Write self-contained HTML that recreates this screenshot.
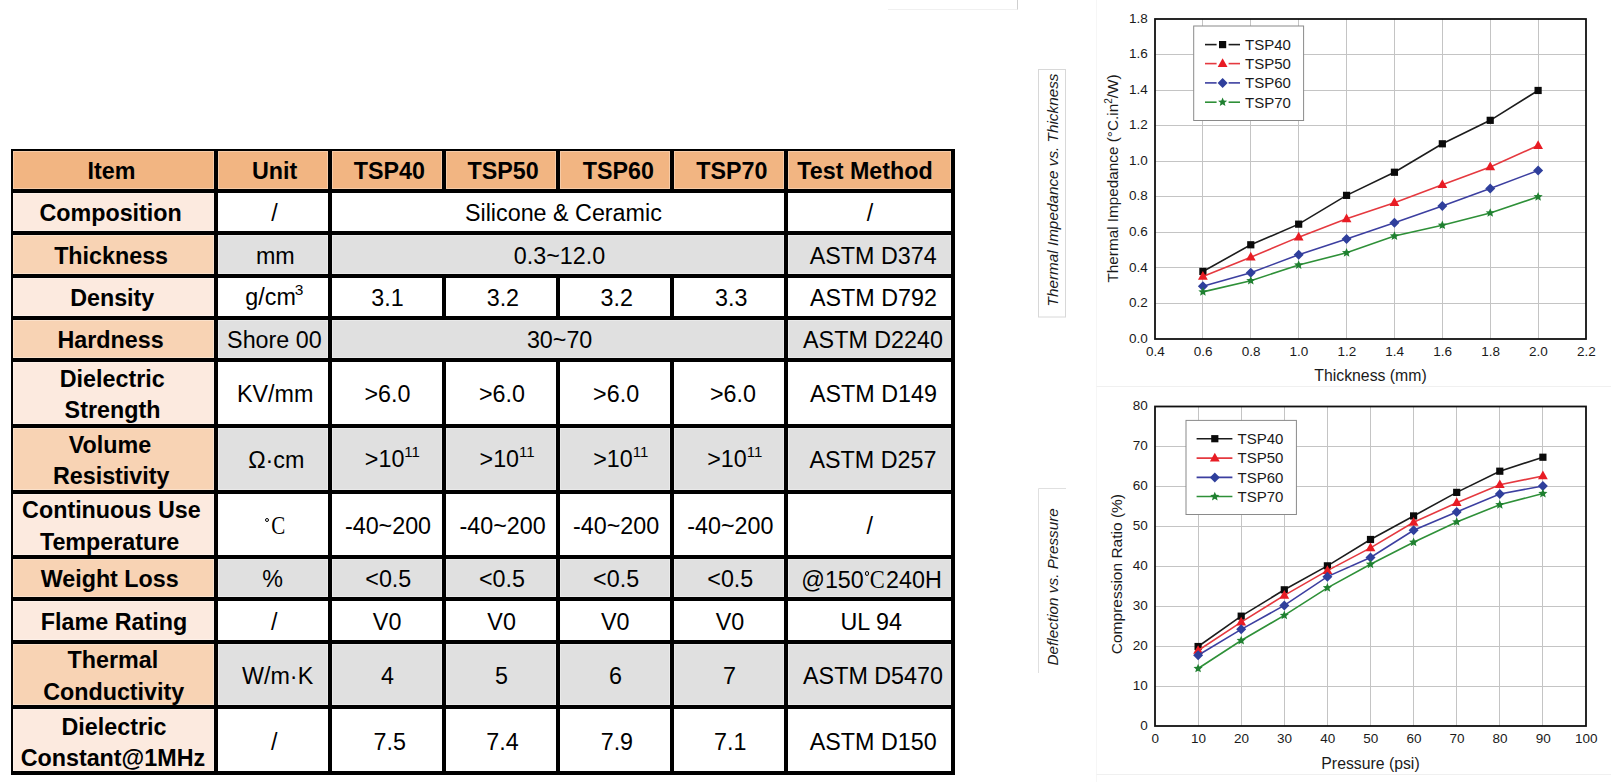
<!DOCTYPE html>
<html><head><meta charset="utf-8"><title>TSP Table</title>
<style>
html,body{margin:0;padding:0;background:#fff;width:1611px;height:782px;overflow:hidden;}
body{position:relative;font-family:"Liberation Sans",sans-serif;color:#000;}
.tb{position:absolute;background:#000;}
.c{position:absolute;box-shadow:inset 0 0 0 1px rgba(255,255,255,0.3);display:flex;align-items:center;justify-content:center;text-align:center;font-size:23.3px;line-height:31.4px;white-space:nowrap;}
.c.b{font-weight:bold;}
.in{position:relative;display:flex;flex-direction:column;align-items:center;}
.ln{position:relative;display:block;}
sup.s3{font-size:15.5px;vertical-align:0;position:relative;top:-10.5px;margin-left:-1px;}
sup.s11{font-size:15px;vertical-align:0;position:relative;top:-10px;}
.dg{display:inline-block;width:2.6px;height:2.6px;border:0.9px solid #000;border-radius:50%;position:relative;top:-12px;margin-right:0.5px;}
.cc{font-family:"Liberation Serif",serif;font-size:25px;display:inline-block;transform:scaleX(0.84);font-weight:normal;}
.dg2{display:inline-block;width:2.6px;height:2.6px;border:0.9px solid #000;border-radius:50%;position:relative;top:-12px;margin-right:0.5px;margin-left:1px;}
.cc2{font-family:"Liberation Serif",serif;font-size:25px;display:inline-block;transform:scaleX(0.9);margin:0 0 0 -0.5px;}
.ch{position:absolute;left:0;top:0;}
</style></head>
<body>
<div class="tb" style="left:11px;top:149px;width:944px;height:626px"></div>
<div class="c b" style="left:13px;top:151px;width:201px;height:38px;background:#F2B582"><div class="in" style="top:2px"><span class="ln" style="left:-2.1px">Item</span></div></div>
<div class="c b" style="left:218px;top:151px;width:110px;height:38px;background:#F2B582"><div class="in" style="top:2px"><span class="ln" style="left:1.7px">Unit</span></div></div>
<div class="c b" style="left:332px;top:151px;width:110px;height:38px;background:#F2B582"><div class="in" style="top:2px"><span class="ln" style="left:2.3px">TSP40</span></div></div>
<div class="c b" style="left:446px;top:151px;width:110px;height:38px;background:#F2B582"><div class="in" style="top:2px"><span class="ln" style="left:2.2px">TSP50</span></div></div>
<div class="c b" style="left:560px;top:151px;width:110px;height:38px;background:#F2B582"><div class="in" style="top:2px"><span class="ln" style="left:3.4px">TSP60</span></div></div>
<div class="c b" style="left:674px;top:151px;width:110px;height:38px;background:#F2B582"><div class="in" style="top:2px"><span class="ln" style="left:2.8px">TSP70</span></div></div>
<div class="c b" style="left:788px;top:151px;width:163px;height:38px;background:#F2B582"><div class="in" style="top:2px"><span class="ln" style="left:-4.5px">Test Method</span></div></div>
<div class="c b" style="left:13px;top:193px;width:201px;height:38px;background:#FCEADF"><div class="in" style="top:2px"><span class="ln" style="left:-2.9px">Composition</span></div></div>
<div class="c " style="left:218px;top:193px;width:110px;height:38px;background:#FFFFFF"><div class="in" style="top:2px"><span class="ln" style="left:1.5px">/</span></div></div>
<div class="c " style="left:332px;top:193px;width:452px;height:38px;background:#FFFFFF"><div class="in" style="top:2px"><span class="ln" style="left:5.4px">Silicone &amp; Ceramic</span></div></div>
<div class="c " style="left:788px;top:193px;width:163px;height:38px;background:#FFFFFF"><div class="in" style="top:2px"><span class="ln" style="left:0.6px">/</span></div></div>
<div class="c b" style="left:13px;top:235px;width:201px;height:39px;background:#F8D3B4"><div class="in" style="top:2px"><span class="ln" style="left:-2.4px">Thickness</span></div></div>
<div class="c " style="left:218px;top:235px;width:110px;height:39px;background:#E0E0E0"><div class="in" style="top:2px"><span class="ln" style="left:2.3px">mm</span></div></div>
<div class="c " style="left:332px;top:235px;width:452px;height:39px;background:#E0E0E0"><div class="in" style="top:2px"><span class="ln" style="left:1.5px">0.3~12.0</span></div></div>
<div class="c " style="left:788px;top:235px;width:163px;height:39px;background:#E0E0E0"><div class="in" style="top:2px"><span class="ln" style="left:3.7px">ASTM D374</span></div></div>
<div class="c b" style="left:13px;top:278px;width:201px;height:38px;background:#FCEADF"><div class="in" style="top:2px"><span class="ln" style="left:-1.3px">Density</span></div></div>
<div class="c " style="left:218px;top:278px;width:110px;height:38px;background:#FFFFFF"><div class="in" style="top:2px"><span class="ln" style="left:1.4px">g/cm<sup class="s3">3</sup></span></div></div>
<div class="c " style="left:332px;top:278px;width:110px;height:38px;background:#FFFFFF"><div class="in" style="top:2px"><span class="ln" style="left:0.5px">3.1</span></div></div>
<div class="c " style="left:446px;top:278px;width:110px;height:38px;background:#FFFFFF"><div class="in" style="top:2px"><span class="ln" style="left:1.9px">3.2</span></div></div>
<div class="c " style="left:560px;top:278px;width:110px;height:38px;background:#FFFFFF"><div class="in" style="top:2px"><span class="ln" style="left:1.8px">3.2</span></div></div>
<div class="c " style="left:674px;top:278px;width:110px;height:38px;background:#FFFFFF"><div class="in" style="top:2px"><span class="ln" style="left:2.2px">3.3</span></div></div>
<div class="c " style="left:788px;top:278px;width:163px;height:38px;background:#FFFFFF"><div class="in" style="top:2px"><span class="ln" style="left:4.0px">ASTM D792</span></div></div>
<div class="c b" style="left:13px;top:320px;width:201px;height:38px;background:#F8D3B4"><div class="in" style="top:2px"><span class="ln" style="left:-3.0px">Hardness</span></div></div>
<div class="c " style="left:218px;top:320px;width:110px;height:38px;background:#E0E0E0"><div class="in" style="top:2px"><span class="ln" style="left:1.4px">Shore 00</span></div></div>
<div class="c " style="left:332px;top:320px;width:452px;height:38px;background:#E0E0E0"><div class="in" style="top:2px"><span class="ln" style="left:1.6px">30~70</span></div></div>
<div class="c " style="left:788px;top:320px;width:163px;height:38px;background:#E0E0E0"><div class="in" style="top:2px"><span class="ln" style="left:3.5px">ASTM D2240</span></div></div>
<div class="c b" style="left:13px;top:362px;width:201px;height:62px;background:#FCEADF"><div class="in" style="top:2px"><span class="ln" style="left:-1.3px">Dielectric</span><span class="ln" style="left:-1.0px">Strength</span></div></div>
<div class="c " style="left:218px;top:362px;width:110px;height:62px;background:#FFFFFF"><div class="in" style="top:2px"><span class="ln" style="left:2.2px">KV/mm</span></div></div>
<div class="c " style="left:332px;top:362px;width:110px;height:62px;background:#FFFFFF"><div class="in" style="top:2px"><span class="ln" style="left:0.5px">&gt;6.0</span></div></div>
<div class="c " style="left:446px;top:362px;width:110px;height:62px;background:#FFFFFF"><div class="in" style="top:2px"><span class="ln" style="left:1.0px">&gt;6.0</span></div></div>
<div class="c " style="left:560px;top:362px;width:110px;height:62px;background:#FFFFFF"><div class="in" style="top:2px"><span class="ln" style="left:1.1px">&gt;6.0</span></div></div>
<div class="c " style="left:674px;top:362px;width:110px;height:62px;background:#FFFFFF"><div class="in" style="top:2px"><span class="ln" style="left:4.0px">&gt;6.0</span></div></div>
<div class="c " style="left:788px;top:362px;width:163px;height:62px;background:#FFFFFF"><div class="in" style="top:2px"><span class="ln" style="left:4.0px">ASTM D149</span></div></div>
<div class="c b" style="left:13px;top:428px;width:201px;height:62px;background:#F8D3B4"><div class="in" style="top:2px"><span class="ln" style="left:-3.5px">Volume</span><span class="ln" style="left:-2.3px">Resistivity</span></div></div>
<div class="c " style="left:218px;top:428px;width:110px;height:62px;background:#E0E0E0"><div class="in" style="top:2px"><span class="ln" style="left:3.3px">&#937;&#183;cm</span></div></div>
<div class="c " style="left:332px;top:428px;width:110px;height:62px;background:#E0E0E0"><div class="in" style="top:2px"><span class="ln" style="left:5.4px">&gt;10<sup class="s11">11</sup></span></div></div>
<div class="c " style="left:446px;top:428px;width:110px;height:62px;background:#E0E0E0"><div class="in" style="top:2px"><span class="ln" style="left:6.1px">&gt;10<sup class="s11">11</sup></span></div></div>
<div class="c " style="left:560px;top:428px;width:110px;height:62px;background:#E0E0E0"><div class="in" style="top:2px"><span class="ln" style="left:5.7px">&gt;10<sup class="s11">11</sup></span></div></div>
<div class="c " style="left:674px;top:428px;width:110px;height:62px;background:#E0E0E0"><div class="in" style="top:2px"><span class="ln" style="left:5.8px">&gt;10<sup class="s11">11</sup></span></div></div>
<div class="c " style="left:788px;top:428px;width:163px;height:62px;background:#E0E0E0"><div class="in" style="top:2px"><span class="ln" style="left:3.5px">ASTM D257</span></div></div>
<div class="c b" style="left:13px;top:494px;width:201px;height:61px;background:#FCEADF"><div class="in" style="top:2px"><span class="ln" style="left:-2.1px">Continuous Use</span><span class="ln" style="left:-3.9px">Temperature</span></div></div>
<div class="c " style="left:218px;top:494px;width:110px;height:61px;background:#FFFFFF"><div class="in" style="top:2px"><span class="ln" style="left:2.6px"><span class="dg"></span><span class="cc">C</span></span></div></div>
<div class="c " style="left:332px;top:494px;width:110px;height:61px;background:#FFFFFF"><div class="in" style="top:2px"><span class="ln" style="left:1.0px">-40~200</span></div></div>
<div class="c " style="left:446px;top:494px;width:110px;height:61px;background:#FFFFFF"><div class="in" style="top:2px"><span class="ln" style="left:1.6px">-40~200</span></div></div>
<div class="c " style="left:560px;top:494px;width:110px;height:61px;background:#FFFFFF"><div class="in" style="top:2px"><span class="ln" style="left:1.1px">-40~200</span></div></div>
<div class="c " style="left:674px;top:494px;width:110px;height:61px;background:#FFFFFF"><div class="in" style="top:2px"><span class="ln" style="left:1.3px">-40~200</span></div></div>
<div class="c " style="left:788px;top:494px;width:163px;height:61px;background:#FFFFFF"><div class="in" style="top:2px"><span class="ln" style="left:0.3px">/</span></div></div>
<div class="c b" style="left:13px;top:559px;width:201px;height:38px;background:#F8D3B4"><div class="in" style="top:2px"><span class="ln" style="left:-3.8px">Weight Loss</span></div></div>
<div class="c " style="left:218px;top:559px;width:110px;height:38px;background:#E0E0E0"><div class="in" style="top:2px"><span class="ln" style="left:-0.3px">%</span></div></div>
<div class="c " style="left:332px;top:559px;width:110px;height:38px;background:#E0E0E0"><div class="in" style="top:2px"><span class="ln" style="left:1.3px">&lt;0.5</span></div></div>
<div class="c " style="left:446px;top:559px;width:110px;height:38px;background:#E0E0E0"><div class="in" style="top:2px"><span class="ln" style="left:1.0px">&lt;0.5</span></div></div>
<div class="c " style="left:560px;top:559px;width:110px;height:38px;background:#E0E0E0"><div class="in" style="top:2px"><span class="ln" style="left:1.1px">&lt;0.5</span></div></div>
<div class="c " style="left:674px;top:559px;width:110px;height:38px;background:#E0E0E0"><div class="in" style="top:2px"><span class="ln" style="left:1.3px">&lt;0.5</span></div></div>
<div class="c " style="left:788px;top:559px;width:163px;height:38px;background:#E0E0E0"><div class="in" style="top:2px"><span class="ln" style="left:2.0px">@150<span class="dg2"></span><span class="cc2">C</span>240H</span></div></div>
<div class="c b" style="left:13px;top:601px;width:201px;height:39px;background:#FCEADF"><div class="in" style="top:2px"><span class="ln" style="left:0.5px">Flame Rating</span></div></div>
<div class="c " style="left:218px;top:601px;width:110px;height:39px;background:#FFFFFF"><div class="in" style="top:2px"><span class="ln" style="left:1.2px">/</span></div></div>
<div class="c " style="left:332px;top:601px;width:110px;height:39px;background:#FFFFFF"><div class="in" style="top:2px"><span class="ln" style="left:0.1px">V0</span></div></div>
<div class="c " style="left:446px;top:601px;width:110px;height:39px;background:#FFFFFF"><div class="in" style="top:2px"><span class="ln" style="left:0.6px">V0</span></div></div>
<div class="c " style="left:560px;top:601px;width:110px;height:39px;background:#FFFFFF"><div class="in" style="top:2px"><span class="ln" style="left:0.2px">V0</span></div></div>
<div class="c " style="left:674px;top:601px;width:110px;height:39px;background:#FFFFFF"><div class="in" style="top:2px"><span class="ln" style="left:0.9px">V0</span></div></div>
<div class="c " style="left:788px;top:601px;width:163px;height:39px;background:#FFFFFF"><div class="in" style="top:2px"><span class="ln" style="left:1.7px">UL 94</span></div></div>
<div class="c b" style="left:13px;top:644px;width:201px;height:61px;background:#F8D3B4"><div class="in" style="top:2px"><span class="ln" style="left:-0.6px">Thermal</span><span class="ln" style="left:0.2px">Conductivity</span></div></div>
<div class="c " style="left:218px;top:644px;width:110px;height:61px;background:#E0E0E0"><div class="in" style="top:2px"><span class="ln" style="left:4.6px">W/m&#183;K</span></div></div>
<div class="c " style="left:332px;top:644px;width:110px;height:61px;background:#E0E0E0"><div class="in" style="top:2px"><span class="ln" style="left:0.5px">4</span></div></div>
<div class="c " style="left:446px;top:644px;width:110px;height:61px;background:#E0E0E0"><div class="in" style="top:2px"><span class="ln" style="left:0.5px">5</span></div></div>
<div class="c " style="left:560px;top:644px;width:110px;height:61px;background:#E0E0E0"><div class="in" style="top:2px"><span class="ln" style="left:0.6px">6</span></div></div>
<div class="c " style="left:674px;top:644px;width:110px;height:61px;background:#E0E0E0"><div class="in" style="top:2px"><span class="ln" style="left:0.5px">7</span></div></div>
<div class="c " style="left:788px;top:644px;width:163px;height:61px;background:#E0E0E0"><div class="in" style="top:2px"><span class="ln" style="left:3.5px">ASTM D5470</span></div></div>
<div class="c b" style="left:13px;top:709px;width:201px;height:62px;background:#FCEADF"><div class="in" style="top:3px"><span class="ln" style="left:0.5px">Dielectric</span><span class="ln" style="left:-0.6px">Constant@1MHz</span></div></div>
<div class="c " style="left:218px;top:709px;width:110px;height:62px;background:#FFFFFF"><div class="in" style="top:3px"><span class="ln" style="left:1.2px">/</span></div></div>
<div class="c " style="left:332px;top:709px;width:110px;height:62px;background:#FFFFFF"><div class="in" style="top:3px"><span class="ln" style="left:2.7px">7.5</span></div></div>
<div class="c " style="left:446px;top:709px;width:110px;height:62px;background:#FFFFFF"><div class="in" style="top:3px"><span class="ln" style="left:1.5px">7.4</span></div></div>
<div class="c " style="left:560px;top:709px;width:110px;height:62px;background:#FFFFFF"><div class="in" style="top:3px"><span class="ln" style="left:1.9px">7.9</span></div></div>
<div class="c " style="left:674px;top:709px;width:110px;height:62px;background:#FFFFFF"><div class="in" style="top:3px"><span class="ln" style="left:1.3px">7.1</span></div></div>
<div class="c " style="left:788px;top:709px;width:163px;height:62px;background:#FFFFFF"><div class="in" style="top:3px"><span class="ln" style="left:3.7px">ASTM D150</span></div></div>
<svg class="ch" width="1611" height="782" viewBox="0 0 1611 782" font-family="Liberation Sans, sans-serif">
<line x1="1202.50" y1="19.00" x2="1202.50" y2="339.00" stroke="#C4C4C4" stroke-width="1" />
<line x1="1250.50" y1="19.00" x2="1250.50" y2="339.00" stroke="#C4C4C4" stroke-width="1" />
<line x1="1298.50" y1="19.00" x2="1298.50" y2="339.00" stroke="#C4C4C4" stroke-width="1" />
<line x1="1346.50" y1="19.00" x2="1346.50" y2="339.00" stroke="#C4C4C4" stroke-width="1" />
<line x1="1394.50" y1="19.00" x2="1394.50" y2="339.00" stroke="#C4C4C4" stroke-width="1" />
<line x1="1442.50" y1="19.00" x2="1442.50" y2="339.00" stroke="#C4C4C4" stroke-width="1" />
<line x1="1490.50" y1="19.00" x2="1490.50" y2="339.00" stroke="#C4C4C4" stroke-width="1" />
<line x1="1538.50" y1="19.00" x2="1538.50" y2="339.00" stroke="#C4C4C4" stroke-width="1" />
<line x1="1155.00" y1="303.50" x2="1586.00" y2="303.50" stroke="#C4C4C4" stroke-width="1" />
<line x1="1155.00" y1="267.50" x2="1586.00" y2="267.50" stroke="#C4C4C4" stroke-width="1" />
<line x1="1155.00" y1="232.50" x2="1586.00" y2="232.50" stroke="#C4C4C4" stroke-width="1" />
<line x1="1155.00" y1="196.50" x2="1586.00" y2="196.50" stroke="#C4C4C4" stroke-width="1" />
<line x1="1155.00" y1="161.50" x2="1586.00" y2="161.50" stroke="#C4C4C4" stroke-width="1" />
<line x1="1155.00" y1="125.50" x2="1586.00" y2="125.50" stroke="#C4C4C4" stroke-width="1" />
<line x1="1155.00" y1="90.50" x2="1586.00" y2="90.50" stroke="#C4C4C4" stroke-width="1" />
<line x1="1155.00" y1="54.50" x2="1586.00" y2="54.50" stroke="#C4C4C4" stroke-width="1" />
<rect x="1155" y="19" width="431" height="320" fill="none" stroke="#111" stroke-width="1.8"/>
<text x="1155.30" y="356.30" font-size="13.5" text-anchor="middle" fill="#1a1a1a" >0.4</text>
<text x="1203.19" y="356.30" font-size="13.5" text-anchor="middle" fill="#1a1a1a" >0.6</text>
<text x="1251.08" y="356.30" font-size="13.5" text-anchor="middle" fill="#1a1a1a" >0.8</text>
<text x="1298.97" y="356.30" font-size="13.5" text-anchor="middle" fill="#1a1a1a" >1.0</text>
<text x="1346.86" y="356.30" font-size="13.5" text-anchor="middle" fill="#1a1a1a" >1.2</text>
<text x="1394.74" y="356.30" font-size="13.5" text-anchor="middle" fill="#1a1a1a" >1.4</text>
<text x="1442.63" y="356.30" font-size="13.5" text-anchor="middle" fill="#1a1a1a" >1.6</text>
<text x="1490.52" y="356.30" font-size="13.5" text-anchor="middle" fill="#1a1a1a" >1.8</text>
<text x="1538.41" y="356.30" font-size="13.5" text-anchor="middle" fill="#1a1a1a" >2.0</text>
<text x="1586.30" y="356.30" font-size="13.5" text-anchor="middle" fill="#1a1a1a" >2.2</text>
<text x="1147.80" y="342.70" font-size="13.5" text-anchor="end" fill="#1a1a1a" >0.0</text>
<text x="1147.80" y="307.14" font-size="13.5" text-anchor="end" fill="#1a1a1a" >0.2</text>
<text x="1147.80" y="271.59" font-size="13.5" text-anchor="end" fill="#1a1a1a" >0.4</text>
<text x="1147.80" y="236.03" font-size="13.5" text-anchor="end" fill="#1a1a1a" >0.6</text>
<text x="1147.80" y="200.48" font-size="13.5" text-anchor="end" fill="#1a1a1a" >0.8</text>
<text x="1147.80" y="164.92" font-size="13.5" text-anchor="end" fill="#1a1a1a" >1.0</text>
<text x="1147.80" y="129.37" font-size="13.5" text-anchor="end" fill="#1a1a1a" >1.2</text>
<text x="1147.80" y="93.81" font-size="13.5" text-anchor="end" fill="#1a1a1a" >1.4</text>
<text x="1147.80" y="58.26" font-size="13.5" text-anchor="end" fill="#1a1a1a" >1.6</text>
<text x="1147.80" y="22.70" font-size="13.5" text-anchor="end" fill="#1a1a1a" >1.8</text>
<polyline points="1202.89,271.44 1250.78,244.78 1298.67,224.16 1346.56,195.36 1394.44,172.24 1442.33,143.80 1490.22,120.33 1538.11,90.47" fill="none" stroke="#1c1c1c" stroke-width="1.6"/>
<rect x="1199.29" y="267.84" width="7.20" height="7.20" fill="#0a0a0a"/>
<rect x="1247.18" y="241.18" width="7.20" height="7.20" fill="#0a0a0a"/>
<rect x="1295.07" y="220.56" width="7.20" height="7.20" fill="#0a0a0a"/>
<rect x="1342.96" y="191.76" width="7.20" height="7.20" fill="#0a0a0a"/>
<rect x="1390.84" y="168.64" width="7.20" height="7.20" fill="#0a0a0a"/>
<rect x="1438.73" y="140.20" width="7.20" height="7.20" fill="#0a0a0a"/>
<rect x="1486.62" y="116.73" width="7.20" height="7.20" fill="#0a0a0a"/>
<rect x="1534.51" y="86.87" width="7.20" height="7.20" fill="#0a0a0a"/>
<polyline points="1202.89,276.42 1250.78,257.22 1298.67,237.13 1346.56,218.82 1394.44,202.64 1442.33,184.69 1490.22,166.91 1538.11,145.58" fill="none" stroke="#E5393F" stroke-width="1.6"/>
<polygon points="1202.89,271.03 1207.79,279.75 1197.99,279.75" fill="#E81C24"/>
<polygon points="1250.78,251.83 1255.68,260.55 1245.88,260.55" fill="#E81C24"/>
<polygon points="1298.67,231.74 1303.57,240.47 1293.77,240.47" fill="#E81C24"/>
<polygon points="1346.56,213.43 1351.46,222.15 1341.66,222.15" fill="#E81C24"/>
<polygon points="1394.44,197.25 1399.34,205.98 1389.54,205.98" fill="#E81C24"/>
<polygon points="1442.33,179.30 1447.23,188.02 1437.43,188.02" fill="#E81C24"/>
<polygon points="1490.22,161.52 1495.12,170.24 1485.32,170.24" fill="#E81C24"/>
<polygon points="1538.11,140.19 1543.01,148.91 1533.21,148.91" fill="#E81C24"/>
<polyline points="1202.89,286.20 1250.78,272.69 1298.67,254.73 1346.56,239.09 1394.44,222.73 1442.33,206.02 1490.22,188.42 1538.11,170.47" fill="none" stroke="#3C3FA0" stroke-width="1.6"/>
<polygon points="1202.89,281.20 1207.89,286.20 1202.89,291.20 1197.89,286.20" fill="#2F3F9C"/>
<polygon points="1250.78,267.69 1255.78,272.69 1250.78,277.69 1245.78,272.69" fill="#2F3F9C"/>
<polygon points="1298.67,249.73 1303.67,254.73 1298.67,259.73 1293.67,254.73" fill="#2F3F9C"/>
<polygon points="1346.56,234.09 1351.56,239.09 1346.56,244.09 1341.56,239.09" fill="#2F3F9C"/>
<polygon points="1394.44,217.73 1399.44,222.73 1394.44,227.73 1389.44,222.73" fill="#2F3F9C"/>
<polygon points="1442.33,201.02 1447.33,206.02 1442.33,211.02 1437.33,206.02" fill="#2F3F9C"/>
<polygon points="1490.22,183.42 1495.22,188.42 1490.22,193.42 1485.22,188.42" fill="#2F3F9C"/>
<polygon points="1538.11,165.47 1543.11,170.47 1538.11,175.47 1533.11,170.47" fill="#2F3F9C"/>
<polyline points="1202.89,291.89 1250.78,280.69 1298.67,265.04 1346.56,252.78 1394.44,236.07 1442.33,225.22 1490.22,212.96 1538.11,196.78" fill="none" stroke="#2E9038" stroke-width="1.6"/>
<polygon points="1202.89,287.09 1204.16,290.14 1207.45,290.41 1204.94,292.56 1205.71,295.77 1202.89,294.05 1200.07,295.77 1200.83,292.56 1198.32,290.41 1201.62,290.14" fill="#1F8030"/>
<polygon points="1250.78,275.89 1252.05,278.94 1255.34,279.21 1252.83,281.36 1253.60,284.57 1250.78,282.85 1247.96,284.57 1248.72,281.36 1246.21,279.21 1249.51,278.94" fill="#1F8030"/>
<polygon points="1298.67,260.24 1299.94,263.30 1303.23,263.56 1300.72,265.71 1301.49,268.93 1298.67,267.20 1295.85,268.93 1296.61,265.71 1294.10,263.56 1297.40,263.30" fill="#1F8030"/>
<polygon points="1346.56,247.98 1347.83,251.03 1351.12,251.29 1348.61,253.45 1349.38,256.66 1346.56,254.94 1343.73,256.66 1344.50,253.45 1341.99,251.29 1345.29,251.03" fill="#1F8030"/>
<polygon points="1394.44,231.27 1395.71,234.32 1399.01,234.58 1396.50,236.73 1397.27,239.95 1394.44,238.23 1391.62,239.95 1392.39,236.73 1389.88,234.58 1393.17,234.32" fill="#1F8030"/>
<polygon points="1442.33,220.42 1443.60,223.47 1446.90,223.74 1444.39,225.89 1445.15,229.11 1442.33,227.38 1439.51,229.11 1440.28,225.89 1437.77,223.74 1441.06,223.47" fill="#1F8030"/>
<polygon points="1490.22,208.16 1491.49,211.21 1494.79,211.47 1492.28,213.62 1493.04,216.84 1490.22,215.12 1487.40,216.84 1488.17,213.62 1485.66,211.47 1488.95,211.21" fill="#1F8030"/>
<polygon points="1538.11,191.98 1539.38,195.03 1542.68,195.29 1540.17,197.45 1540.93,200.66 1538.11,198.94 1535.29,200.66 1536.06,197.45 1533.55,195.29 1536.84,195.03" fill="#1F8030"/>
<rect x="1193.7" y="26" width="109.89999999999986" height="94.5" fill="#fff" stroke="#8a8a8a" stroke-width="1"/>
<line x1="1205.00" y1="44.60" x2="1216.60" y2="44.60" stroke="#1c1c1c" stroke-width="1.6" />
<line x1="1228.60" y1="44.60" x2="1240.00" y2="44.60" stroke="#1c1c1c" stroke-width="1.6" />
<rect x="1219.00" y="41.00" width="7.20" height="7.20" fill="#0a0a0a"/>
<text x="1245.00" y="49.90" font-size="15" text-anchor="start" fill="#1a1a1a" >TSP40</text>
<line x1="1205.00" y1="63.60" x2="1216.60" y2="63.60" stroke="#E5393F" stroke-width="1.6" />
<line x1="1228.60" y1="63.60" x2="1240.00" y2="63.60" stroke="#E5393F" stroke-width="1.6" />
<polygon points="1222.60,58.21 1227.50,66.93 1217.70,66.93" fill="#E81C24"/>
<text x="1245.00" y="68.90" font-size="15" text-anchor="start" fill="#1a1a1a" >TSP50</text>
<line x1="1205.00" y1="82.90" x2="1216.60" y2="82.90" stroke="#3C3FA0" stroke-width="1.6" />
<line x1="1228.60" y1="82.90" x2="1240.00" y2="82.90" stroke="#3C3FA0" stroke-width="1.6" />
<polygon points="1222.60,77.90 1227.60,82.90 1222.60,87.90 1217.60,82.90" fill="#2F3F9C"/>
<text x="1245.00" y="88.20" font-size="15" text-anchor="start" fill="#1a1a1a" >TSP60</text>
<line x1="1205.00" y1="102.20" x2="1216.60" y2="102.20" stroke="#2E9038" stroke-width="1.6" />
<line x1="1228.60" y1="102.20" x2="1240.00" y2="102.20" stroke="#2E9038" stroke-width="1.6" />
<polygon points="1222.60,97.40 1223.87,100.45 1227.17,100.72 1224.65,102.87 1225.42,106.08 1222.60,104.36 1219.78,106.08 1220.55,102.87 1218.03,100.72 1221.33,100.45" fill="#1F8030"/>
<text x="1245.00" y="107.50" font-size="15" text-anchor="start" fill="#1a1a1a" >TSP70</text>
<text x="1370.50" y="381.30" font-size="15.8" text-anchor="middle" fill="#1a1a1a" >Thickness (mm)</text>
<text transform="translate(1118,178.5) rotate(-90)" font-size="15.3" text-anchor="middle" fill="#1a1a1a">Thermal Impedance (<tspan>&#176;</tspan>C.in<tspan font-size="10" dy="-6">2</tspan><tspan dy="6">/W)</tspan></text>
<line x1="1198.50" y1="406.50" x2="1198.50" y2="726.00" stroke="#C4C4C4" stroke-width="1" />
<line x1="1241.50" y1="406.50" x2="1241.50" y2="726.00" stroke="#C4C4C4" stroke-width="1" />
<line x1="1284.50" y1="406.50" x2="1284.50" y2="726.00" stroke="#C4C4C4" stroke-width="1" />
<line x1="1327.50" y1="406.50" x2="1327.50" y2="726.00" stroke="#C4C4C4" stroke-width="1" />
<line x1="1370.50" y1="406.50" x2="1370.50" y2="726.00" stroke="#C4C4C4" stroke-width="1" />
<line x1="1413.50" y1="406.50" x2="1413.50" y2="726.00" stroke="#C4C4C4" stroke-width="1" />
<line x1="1456.50" y1="406.50" x2="1456.50" y2="726.00" stroke="#C4C4C4" stroke-width="1" />
<line x1="1499.50" y1="406.50" x2="1499.50" y2="726.00" stroke="#C4C4C4" stroke-width="1" />
<line x1="1542.50" y1="406.50" x2="1542.50" y2="726.00" stroke="#C4C4C4" stroke-width="1" />
<line x1="1155.00" y1="686.50" x2="1586.00" y2="686.50" stroke="#C4C4C4" stroke-width="1" />
<line x1="1155.00" y1="646.50" x2="1586.00" y2="646.50" stroke="#C4C4C4" stroke-width="1" />
<line x1="1155.00" y1="606.50" x2="1586.00" y2="606.50" stroke="#C4C4C4" stroke-width="1" />
<line x1="1155.00" y1="566.50" x2="1586.00" y2="566.50" stroke="#C4C4C4" stroke-width="1" />
<line x1="1155.00" y1="526.50" x2="1586.00" y2="526.50" stroke="#C4C4C4" stroke-width="1" />
<line x1="1155.00" y1="486.50" x2="1586.00" y2="486.50" stroke="#C4C4C4" stroke-width="1" />
<line x1="1155.00" y1="446.50" x2="1586.00" y2="446.50" stroke="#C4C4C4" stroke-width="1" />
<rect x="1155" y="406.5" width="431" height="319.5" fill="none" stroke="#111" stroke-width="1.8"/>
<text x="1155.30" y="743.30" font-size="13.5" text-anchor="middle" fill="#1a1a1a" >0</text>
<text x="1198.40" y="743.30" font-size="13.5" text-anchor="middle" fill="#1a1a1a" >10</text>
<text x="1241.50" y="743.30" font-size="13.5" text-anchor="middle" fill="#1a1a1a" >20</text>
<text x="1284.60" y="743.30" font-size="13.5" text-anchor="middle" fill="#1a1a1a" >30</text>
<text x="1327.70" y="743.30" font-size="13.5" text-anchor="middle" fill="#1a1a1a" >40</text>
<text x="1370.80" y="743.30" font-size="13.5" text-anchor="middle" fill="#1a1a1a" >50</text>
<text x="1413.90" y="743.30" font-size="13.5" text-anchor="middle" fill="#1a1a1a" >60</text>
<text x="1457.00" y="743.30" font-size="13.5" text-anchor="middle" fill="#1a1a1a" >70</text>
<text x="1500.10" y="743.30" font-size="13.5" text-anchor="middle" fill="#1a1a1a" >80</text>
<text x="1543.20" y="743.30" font-size="13.5" text-anchor="middle" fill="#1a1a1a" >90</text>
<text x="1586.30" y="743.30" font-size="13.5" text-anchor="middle" fill="#1a1a1a" >100</text>
<text x="1147.80" y="729.70" font-size="13.5" text-anchor="end" fill="#1a1a1a" >0</text>
<text x="1147.80" y="689.76" font-size="13.5" text-anchor="end" fill="#1a1a1a" >10</text>
<text x="1147.80" y="649.83" font-size="13.5" text-anchor="end" fill="#1a1a1a" >20</text>
<text x="1147.80" y="609.89" font-size="13.5" text-anchor="end" fill="#1a1a1a" >30</text>
<text x="1147.80" y="569.95" font-size="13.5" text-anchor="end" fill="#1a1a1a" >40</text>
<text x="1147.80" y="530.01" font-size="13.5" text-anchor="end" fill="#1a1a1a" >50</text>
<text x="1147.80" y="490.07" font-size="13.5" text-anchor="end" fill="#1a1a1a" >60</text>
<text x="1147.80" y="450.14" font-size="13.5" text-anchor="end" fill="#1a1a1a" >70</text>
<text x="1147.80" y="410.20" font-size="13.5" text-anchor="end" fill="#1a1a1a" >80</text>
<polyline points="1198.10,646.52 1241.20,616.17 1284.30,589.81 1327.40,565.85 1370.50,539.49 1413.60,515.93 1456.70,492.37 1499.80,471.20 1542.90,457.22" fill="none" stroke="#1c1c1c" stroke-width="1.6"/>
<rect x="1194.50" y="642.92" width="7.20" height="7.20" fill="#0a0a0a"/>
<rect x="1237.60" y="612.57" width="7.20" height="7.20" fill="#0a0a0a"/>
<rect x="1280.70" y="586.21" width="7.20" height="7.20" fill="#0a0a0a"/>
<rect x="1323.80" y="562.25" width="7.20" height="7.20" fill="#0a0a0a"/>
<rect x="1366.90" y="535.89" width="7.20" height="7.20" fill="#0a0a0a"/>
<rect x="1410.00" y="512.33" width="7.20" height="7.20" fill="#0a0a0a"/>
<rect x="1453.10" y="488.77" width="7.20" height="7.20" fill="#0a0a0a"/>
<rect x="1496.20" y="467.60" width="7.20" height="7.20" fill="#0a0a0a"/>
<rect x="1539.30" y="453.62" width="7.20" height="7.20" fill="#0a0a0a"/>
<polyline points="1198.10,650.52 1241.20,622.16 1284.30,595.40 1327.40,570.64 1370.50,547.88 1413.60,522.32 1456.70,502.75 1499.80,484.78 1542.90,475.99" fill="none" stroke="#E5393F" stroke-width="1.6"/>
<polygon points="1198.10,645.13 1203.00,653.85 1193.20,653.85" fill="#E81C24"/>
<polygon points="1241.20,616.77 1246.10,625.49 1236.30,625.49" fill="#E81C24"/>
<polygon points="1284.30,590.01 1289.20,598.74 1279.40,598.74" fill="#E81C24"/>
<polygon points="1327.40,565.25 1332.30,573.98 1322.50,573.98" fill="#E81C24"/>
<polygon points="1370.50,542.49 1375.40,551.21 1365.60,551.21" fill="#E81C24"/>
<polygon points="1413.60,516.93 1418.50,525.65 1408.70,525.65" fill="#E81C24"/>
<polygon points="1456.70,497.36 1461.60,506.08 1451.80,506.08" fill="#E81C24"/>
<polygon points="1499.80,479.39 1504.70,488.11 1494.90,488.11" fill="#E81C24"/>
<polygon points="1542.90,470.60 1547.80,479.32 1538.00,479.32" fill="#E81C24"/>
<polyline points="1198.10,655.31 1241.20,629.35 1284.30,605.39 1327.40,576.63 1370.50,557.46 1413.60,530.31 1456.70,511.93 1499.80,493.96 1542.90,485.98" fill="none" stroke="#3C3FA0" stroke-width="1.6"/>
<polygon points="1198.10,650.31 1203.10,655.31 1198.10,660.31 1193.10,655.31" fill="#2F3F9C"/>
<polygon points="1241.20,624.35 1246.20,629.35 1241.20,634.35 1236.20,629.35" fill="#2F3F9C"/>
<polygon points="1284.30,600.39 1289.30,605.39 1284.30,610.39 1279.30,605.39" fill="#2F3F9C"/>
<polygon points="1327.40,571.63 1332.40,576.63 1327.40,581.63 1322.40,576.63" fill="#2F3F9C"/>
<polygon points="1370.50,552.46 1375.50,557.46 1370.50,562.46 1365.50,557.46" fill="#2F3F9C"/>
<polygon points="1413.60,525.31 1418.60,530.31 1413.60,535.31 1408.60,530.31" fill="#2F3F9C"/>
<polygon points="1456.70,506.93 1461.70,511.93 1456.70,516.93 1451.70,511.93" fill="#2F3F9C"/>
<polygon points="1499.80,488.96 1504.80,493.96 1499.80,498.96 1494.80,493.96" fill="#2F3F9C"/>
<polygon points="1542.90,480.98 1547.90,485.98 1542.90,490.98 1537.90,485.98" fill="#2F3F9C"/>
<polyline points="1198.10,668.49 1241.20,640.53 1284.30,615.37 1327.40,587.82 1370.50,564.25 1413.60,542.29 1456.70,521.92 1499.80,504.75 1542.90,493.56" fill="none" stroke="#2E9038" stroke-width="1.6"/>
<polygon points="1198.10,663.69 1199.37,666.74 1202.67,667.01 1200.15,669.16 1200.92,672.37 1198.10,670.65 1195.28,672.37 1196.05,669.16 1193.53,667.01 1196.83,666.74" fill="#1F8030"/>
<polygon points="1241.20,635.73 1242.47,638.79 1245.77,639.05 1243.25,641.20 1244.02,644.42 1241.20,642.69 1238.38,644.42 1239.15,641.20 1236.63,639.05 1239.93,638.79" fill="#1F8030"/>
<polygon points="1284.30,610.57 1285.57,613.63 1288.87,613.89 1286.35,616.04 1287.12,619.26 1284.30,617.53 1281.48,619.26 1282.25,616.04 1279.73,613.89 1283.03,613.63" fill="#1F8030"/>
<polygon points="1327.40,583.02 1328.67,586.07 1331.97,586.33 1329.45,588.48 1330.22,591.70 1327.40,589.98 1324.58,591.70 1325.35,588.48 1322.83,586.33 1326.13,586.07" fill="#1F8030"/>
<polygon points="1370.50,559.45 1371.77,562.51 1375.07,562.77 1372.55,564.92 1373.32,568.14 1370.50,566.41 1367.68,568.14 1368.45,564.92 1365.93,562.77 1369.23,562.51" fill="#1F8030"/>
<polygon points="1413.60,537.49 1414.87,540.54 1418.17,540.80 1415.65,542.95 1416.42,546.17 1413.60,544.45 1410.78,546.17 1411.55,542.95 1409.03,540.80 1412.33,540.54" fill="#1F8030"/>
<polygon points="1456.70,517.12 1457.97,520.17 1461.27,520.44 1458.75,522.59 1459.52,525.80 1456.70,524.08 1453.88,525.80 1454.65,522.59 1452.13,520.44 1455.43,520.17" fill="#1F8030"/>
<polygon points="1499.80,499.95 1501.07,503.00 1504.37,503.26 1501.85,505.41 1502.62,508.63 1499.80,506.91 1496.98,508.63 1497.75,505.41 1495.23,503.26 1498.53,503.00" fill="#1F8030"/>
<polygon points="1542.90,488.76 1544.17,491.82 1547.47,492.08 1544.95,494.23 1545.72,497.45 1542.90,495.72 1540.08,497.45 1540.85,494.23 1538.33,492.08 1541.63,491.82" fill="#1F8030"/>
<rect x="1186" y="420.4" width="110.40000000000009" height="94.10000000000002" fill="#fff" stroke="#8a8a8a" stroke-width="1"/>
<line x1="1196.60" y1="438.70" x2="1232.40" y2="438.70" stroke="#1c1c1c" stroke-width="1.6" />
<rect x="1211.20" y="435.10" width="7.20" height="7.20" fill="#0a0a0a"/>
<text x="1237.60" y="444.00" font-size="15" text-anchor="start" fill="#1a1a1a" >TSP40</text>
<line x1="1196.60" y1="458.10" x2="1232.40" y2="458.10" stroke="#E5393F" stroke-width="1.6" />
<polygon points="1214.80,452.71 1219.70,461.43 1209.90,461.43" fill="#E81C24"/>
<text x="1237.60" y="463.40" font-size="15" text-anchor="start" fill="#1a1a1a" >TSP50</text>
<line x1="1196.60" y1="477.40" x2="1232.40" y2="477.40" stroke="#3C3FA0" stroke-width="1.6" />
<polygon points="1214.80,472.40 1219.80,477.40 1214.80,482.40 1209.80,477.40" fill="#2F3F9C"/>
<text x="1237.60" y="482.70" font-size="15" text-anchor="start" fill="#1a1a1a" >TSP60</text>
<line x1="1196.60" y1="496.50" x2="1232.40" y2="496.50" stroke="#2E9038" stroke-width="1.6" />
<polygon points="1214.80,491.70 1216.07,494.75 1219.37,495.02 1216.85,497.17 1217.62,500.38 1214.80,498.66 1211.98,500.38 1212.75,497.17 1210.23,495.02 1213.53,494.75" fill="#1F8030"/>
<text x="1237.60" y="501.80" font-size="15" text-anchor="start" fill="#1a1a1a" >TSP70</text>
<text x="1370.50" y="768.70" font-size="15.8" text-anchor="middle" fill="#1a1a1a" >Pressure (psi)</text>
<text transform="translate(1122,574.1) rotate(-90)" font-size="15.5" text-anchor="middle" fill="#1a1a1a">Compression Ratio (%)</text>
<rect x="1038.5" y="69.5" width="27" height="247.5" fill="none" stroke="#d8d8d8" stroke-width="1"/>
<text transform="translate(1057.6,190) rotate(-90)" font-size="15.3" font-style="italic" text-anchor="middle" fill="#1a1a1a">Thermal Impedance vs. Thickness</text>
<line x1="1038.50" y1="488.50" x2="1066.00" y2="488.50" stroke="#e0e0e0" stroke-width="1" />
<line x1="1038.50" y1="488.50" x2="1038.50" y2="673.00" stroke="#e0e0e0" stroke-width="1" />
<text transform="translate(1058.4,586.8) rotate(-90)" font-size="15.3" font-style="italic" text-anchor="middle" fill="#1a1a1a">Deflection vs. Pressure</text>
<line x1="888.00" y1="9.50" x2="1017.50" y2="9.50" stroke="#f0f0f0" stroke-width="1" />
<line x1="1017.50" y1="0.00" x2="1017.50" y2="9.50" stroke="#cfcfcf" stroke-width="1" />
<line x1="1096.50" y1="0.00" x2="1096.50" y2="782.00" stroke="#f6f6f6" stroke-width="1" />
<line x1="1096.50" y1="386.50" x2="1611.00" y2="386.50" stroke="#f0f0f0" stroke-width="1" />
<line x1="1096.50" y1="774.50" x2="1611.00" y2="774.50" stroke="#f0f0f0" stroke-width="1" />
</svg>
</body></html>
